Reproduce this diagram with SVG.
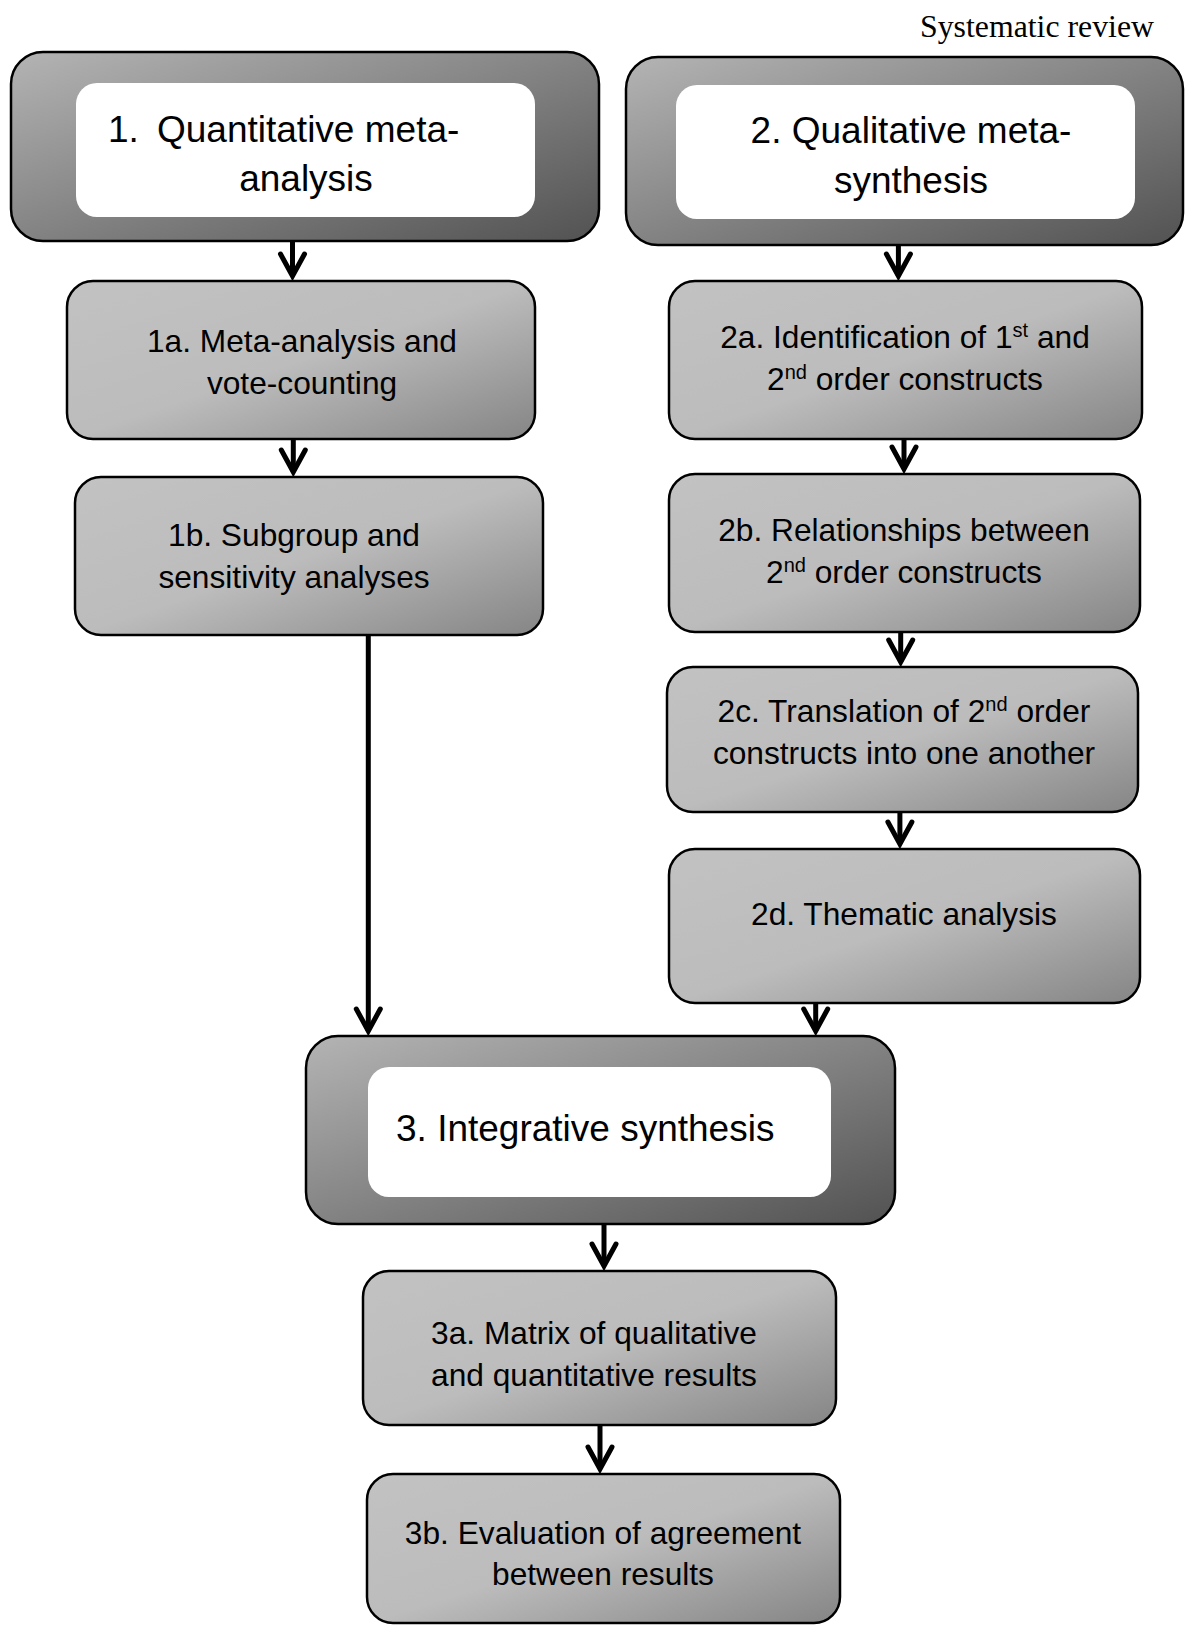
<svg xmlns="http://www.w3.org/2000/svg" width="1186" height="1625" viewBox="0 0 1186 1625">
<style>
.hdr{fill:url(#gDark);stroke:#000;stroke-width:2.5}
.inner{fill:#fff;stroke:none}
.box{fill:url(#gLight);stroke:#000;stroke-width:2.5}
.t{font-family:"Liberation Sans",Arial,sans-serif;font-size:31.7px;fill:#000;text-anchor:middle}
.th{font-family:"Liberation Sans",Arial,sans-serif;font-size:37px;fill:#000}
.sup{font-size:20px}
.title{font-family:"Liberation Serif","Times New Roman",serif;font-size:31.8px;fill:#000;text-anchor:end}
.conn line{stroke:#000;stroke-width:5;marker-end:url(#arr)}
</style>
<defs>
<linearGradient id="gDark" x1="0" y1="0" x2="1" y2="1">
<stop offset="0" stop-color="#b4b4b4"/>
<stop offset="1" stop-color="#525252"/>
</linearGradient>
<linearGradient id="gLight" x1="0" y1="0" x2="1" y2="1">
<stop offset="0" stop-color="#c2c2c2"/>
<stop offset="0.5" stop-color="#bcbcbc"/>
<stop offset="1" stop-color="#858585"/>
</linearGradient>
<marker id="arr" markerUnits="userSpaceOnUse" viewBox="-30 -16 38 32" markerWidth="38" markerHeight="32" refX="0" refY="0" orient="auto" overflow="visible">
<path d="M-22,-12 L0,0 L-22,12" fill="none" stroke="#000" stroke-width="5" stroke-linecap="round" stroke-linejoin="miter"/>
</marker>
</defs>

<text class="title" x="1154" y="37">Systematic review</text>

<g id="node1">
<rect class="hdr" x="11" y="52" width="588" height="189" rx="32"/>
<rect class="inner" x="76" y="83" width="459" height="134" rx="21"/>
<text class="th" y="142"><tspan x="108">1.</tspan><tspan x="157">Quantitative meta-</tspan></text>
<text class="th" x="306" y="191" text-anchor="middle">analysis</text>
</g>

<g id="node2">
<rect class="hdr" x="626" y="57" width="557" height="188" rx="32"/>
<rect class="inner" x="676" y="85" width="459" height="134" rx="21"/>
<text class="th" x="911" y="143" text-anchor="middle">2. Qualitative meta-</text>
<text class="th" x="911" y="193" text-anchor="middle">synthesis</text>
</g>

<g id="node1a">
<rect class="box" x="67" y="281" width="468" height="158" rx="26"/>
<text class="t" x="302" y="352">1a. Meta-analysis and</text>
<text class="t" x="302" y="394">vote-counting</text>
</g>

<g id="node1b">
<rect class="box" x="75" y="477" width="468" height="158" rx="26"/>
<text class="t" x="294" y="546">1b. Subgroup and</text>
<text class="t" x="294" y="588">sensitivity analyses</text>
</g>

<g id="node2a">
<rect class="box" x="669" y="281" width="473" height="158" rx="26"/>
<text class="t" x="905" y="348">2a. Identification of 1<tspan class="sup" dy="-11">st</tspan><tspan dy="11"> and</tspan></text>
<text class="t" x="905" y="390">2<tspan class="sup" dy="-11">nd</tspan><tspan dy="11"> order constructs</tspan></text>
</g>

<g id="node2b">
<rect class="box" x="669" y="474" width="471" height="158" rx="26"/>
<text class="t" x="904" y="541">2b. Relationships between</text>
<text class="t" x="904" y="583">2<tspan class="sup" dy="-11">nd</tspan><tspan dy="11"> order constructs</tspan></text>
</g>

<g id="node2c">
<rect class="box" x="667" y="667" width="471" height="145" rx="26"/>
<text class="t" x="904" y="722">2c. Translation of 2<tspan class="sup" dy="-11">nd</tspan><tspan dy="11"> order</tspan></text>
<text class="t" x="904" y="764">constructs into one another</text>
</g>

<g id="node2d">
<rect class="box" x="669" y="849" width="471" height="154" rx="26"/>
<text class="t" x="904" y="925">2d. Thematic analysis</text>
</g>

<g id="node3">
<rect class="hdr" x="306" y="1036" width="589" height="188" rx="32"/>
<rect class="inner" x="368" y="1067" width="463" height="130" rx="21"/>
<text class="th" x="396" y="1141">3. Integrative synthesis</text>
</g>

<g id="node3a">
<rect class="box" x="363" y="1271" width="473" height="154" rx="26"/>
<text class="t" x="594" y="1344">3a. Matrix of qualitative</text>
<text class="t" x="594" y="1386">and quantitative results</text>
</g>

<g id="node3b">
<rect class="box" x="367" y="1474" width="473" height="149" rx="26"/>
<text class="t" x="603" y="1544">3b. Evaluation of agreement</text>
<text class="t" x="603" y="1585">between results</text>
</g>

<g id="connectors" class="conn">
<line x1="292.5" y1="241" x2="292.5" y2="276"/>
<line x1="293.3" y1="439" x2="293.3" y2="472"/>
<line x1="368.3" y1="635" x2="368.3" y2="1031"/>
<line x1="898.4" y1="245" x2="898.4" y2="276"/>
<line x1="904" y1="439" x2="904" y2="469"/>
<line x1="900.7" y1="632" x2="900.7" y2="662"/>
<line x1="899.9" y1="812" x2="899.9" y2="844"/>
<line x1="815.7" y1="1003" x2="815.7" y2="1031"/>
<line x1="604" y1="1224" x2="604" y2="1266"/>
<line x1="600" y1="1425" x2="600" y2="1469"/>
</g>
</svg>
